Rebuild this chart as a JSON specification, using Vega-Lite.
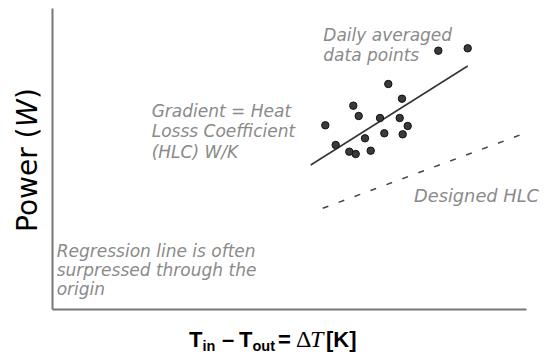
{
  "$schema": "https://vega.github.io/schema/vega-lite/v6.json",
  "width": 474,
  "height": 301,
  "autosize": "none",
  "padding": {"left": 52, "top": 8, "right": 21, "bottom": 52},
  "background": "white",
  "config": {"view": {"stroke": null}},
  "encoding": {
    "x": {"field": "x", "type": "quantitative", "scale": {"domain": [0, 474], "nice": false, "zero": false},
          "axis": {"title": null, "labels": false, "ticks": false, "grid": false, "domain": true, "domainColor": "#777777", "domainWidth": 2}},
    "y": {"field": "y", "type": "quantitative", "scale": {"domain": [0, 301], "nice": false, "zero": false},
          "axis": {"title": null, "labels": false, "ticks": false, "grid": false, "domain": true, "domainColor": "#777777", "domainWidth": 2}}
  },
  "layer": [
    {
      "data": {"values": [{"x": 270.7, "y": 100.7}, {"x": 468, "y": 174}]},
      "mark": {"type": "line", "color": "#444444", "strokeWidth": 1.5, "strokeDash": [6, 11]}
    },
    {
      "data": {"values": [{"x": 258.7, "y": 144}, {"x": 415.7, "y": 243}]},
      "mark": {"type": "line", "color": "#333333", "strokeWidth": 1.5}
    },
    {
      "data": {"values": [
        {"x": 386.3, "y": 258.3}, {"x": 415.7, "y": 260.7}, {"x": 336.3, "y": 225},
        {"x": 350, "y": 210.3}, {"x": 301.3, "y": 203.3}, {"x": 306.7, "y": 193},
        {"x": 328, "y": 191}, {"x": 347.7, "y": 191}, {"x": 355.7, "y": 183},
        {"x": 273.3, "y": 183.7}, {"x": 332.3, "y": 175.7}, {"x": 350.7, "y": 174.7},
        {"x": 313, "y": 170.7}, {"x": 283.7, "y": 164}, {"x": 297.3, "y": 157.3},
        {"x": 303.7, "y": 155}, {"x": 318.7, "y": 158.3}
      ]},
      "mark": {"type": "point", "filled": true, "fill": "#3a3a3a", "stroke": "#111111", "strokeWidth": 1, "opacity": 1, "fillOpacity": 1, "size": 55}
    },
    {
      "data": {"values": [
        {"x": 271.3, "y": 268.3, "t": "Daily averaged\ndata points"},
        {"x": 99.7, "y": 192.3, "t": "Gradient = Heat\nLosss Coefficient\n(HLC) W/K"}
      ]},
      "mark": {"type": "text", "font": "DejaVu Sans", "fontStyle": "italic", "fontSize": 17, "color": "#8a8a8a", "align": "left", "baseline": "alphabetic", "lineBreak": "\n", "lineHeight": 20.5},
      "encoding": {"text": {"field": "t"}}
    },
    {
      "data": {"values": [{"x": 362, "y": 107.3, "t": "Designed HLC"}]},
      "mark": {"type": "text", "font": "DejaVu Sans", "fontStyle": "italic", "fontSize": 17.8, "color": "#8a8a8a", "align": "left", "baseline": "alphabetic"},
      "encoding": {"text": {"field": "t"}}
    },
    {
      "data": {"values": [
        {"x": 4.7, "y": 51.7, "t": "Regression line is often\nsurpressed through the\norigin"}
      ]},
      "mark": {"type": "text", "font": "DejaVu Sans", "fontStyle": "italic", "fontSize": 17, "color": "#8a8a8a", "align": "left", "baseline": "alphabetic", "lineBreak": "\n", "lineHeight": 19},
      "encoding": {"text": {"field": "t"}}
    },
    {
      "data": {"values": [
        {"x": 137, "y": -38, "t": "T"},
        {"x": 170, "y": -38, "t": "–"},
        {"x": 187, "y": -38, "t": "T"},
        {"x": 226, "y": -38, "t": "="},
        {"x": 274, "y": -38, "t": "[K]"}
      ]},
      "mark": {"type": "text", "font": "Liberation Sans", "fontWeight": "bold", "fontSize": 22, "color": "#000000", "align": "left", "baseline": "alphabetic"},
      "encoding": {"text": {"field": "t"}}
    },
    {
      "data": {"values": [
        {"x": 150.5, "y": -42, "t": "in"},
        {"x": 200.5, "y": -42, "t": "out"}
      ]},
      "mark": {"type": "text", "font": "Liberation Sans", "fontWeight": "bold", "fontSize": 14.5, "color": "#000000", "align": "left", "baseline": "alphabetic"},
      "encoding": {"text": {"field": "t"}}
    },
    {
      "data": {"values": [{"x": 244, "y": -38, "t": "Δ"}]},
      "mark": {"type": "text", "font": "Liberation Serif", "fontSize": 24, "color": "#000000", "align": "left", "baseline": "alphabetic"},
      "encoding": {"text": {"field": "t"}}
    },
    {
      "data": {"values": [{"x": 258, "y": -38, "t": "T"}]},
      "mark": {"type": "text", "font": "Liberation Serif", "fontStyle": "italic", "fontSize": 24, "color": "#000000", "align": "left", "baseline": "alphabetic"},
      "encoding": {"text": {"field": "t"}}
    },
    {
      "data": {"values": [
        {"x": -15, "y": 77, "t": "Power ("},
        {"x": -15, "y": 210, "t": ")"}
      ]},
      "mark": {"type": "text", "font": "DejaVu Sans", "fontSize": 28, "color": "#000000", "align": "left", "baseline": "alphabetic", "angle": 270},
      "encoding": {"text": {"field": "t"}}
    },
    {
      "data": {"values": [{"x": -15, "y": 182, "t": "W"}]},
      "mark": {"type": "text", "font": "DejaVu Sans", "fontStyle": "italic", "fontSize": 28, "color": "#000000", "align": "left", "baseline": "alphabetic", "angle": 270},
      "encoding": {"text": {"field": "t"}}
    }
  ]
}
